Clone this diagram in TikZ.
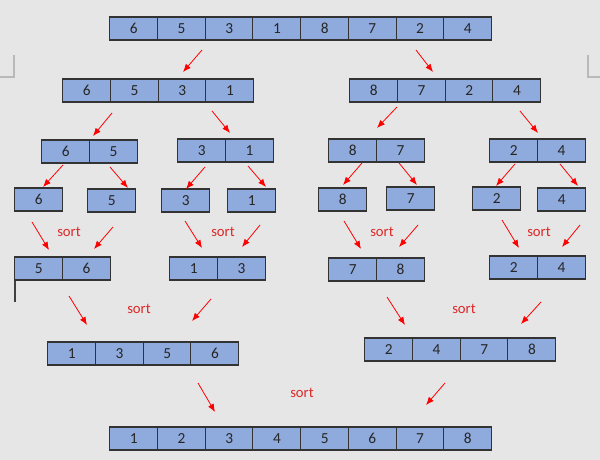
\documentclass[tikz,border=0pt]{standalone}
\usepackage{fontspec}
\setmainfont{Carlito}
\usepackage{tikz}
\usetikzlibrary{arrows.meta}
\definecolor{cellblue}{HTML}{8FAADC}
\definecolor{paper}{HTML}{E6E6E6}
\definecolor{sortred}{RGB}{220,40,40}
\tikzset{>=latex}
\tikzstyle{cell} = [rectangle, draw=black!80, line width=0.8pt, fill=cellblue, minimum width=36pt, minimum height=17.25pt, inner sep=0, font=\fontsize{11.5}{13}\selectfont, text=black!85]
\tikzstyle{arr} = [-{Latex[length=6pt,width=4.8pt]}, red, line width=0.6pt]
\tikzstyle{lbl} = [draw=none, inner sep=1, text=sortred, font=\fontsize{11}{13}\selectfont]

\begin{document}
\begin{tikzpicture}[x=0.75pt, y=-0.75pt]
\fill [paper] (0,0) rectangle (600,460);
\useasboundingbox (0,0) rectangle (600,460);
% page corner marks and cursor
\draw [gray!55, line width=1.2pt] (0,77) -- (14,77) -- (14,55);
\draw [gray!55, line width=1.2pt] (600,77) -- (588,77) -- (588,55);
\draw [black!75, line width=0.8pt] (15,280) -- (15,302);
% arrays: name/left/top/values
\foreach \n/\x/\y/\vals in {top/110/17/{6,5,3,1,8,7,2,4},
    la/63/79/{6,5,3,1}, lb/350/79/{8,7,2,4},
    pa/42/140/{6,5}, pb/178/139/{3,1}, pc/329/139/{8,7}, pd/490/139/{2,4},
    sa/15/188/{6}, sb/88/189/{5}, sc/162/189/{3}, sd/228/189/{1},
    se/319/188/{8}, sf/387/187/{7}, sg/473/187/{2}, sh/538/188/{4},
    ma/15/257/{5,6}, mb/170/257/{1,3}, mc/329/258/{7,8}, md/490/256/{2,4},
    qa/48/342/{1,3,5,6}, qb/365/338/{2,4,7,8},
    bot/110/427/{1,2,3,4,5,6,7,8}}
  \foreach \v [count=\i] in \vals
    \node [cell] (\n-\i) at ({\x+(\i-0.5)*47.7}, {\y+11.5}) {\v};
% split and merge arrows: name/from x/from y/to x/to y
\foreach \a/\sx/\sy/\ex/\ey in {a1/202/50/183/72, a2/416/50/433/72,
    a3/112/113/93/136, a4/212/111/230/133, a5/397/107/377/128, a6/520/111/538/133,
    a7/63/165/43/187, a8/110/167/128/188, a9/205/167/186/189, a10/248/166/266/187,
    a11/362/163/343/185, a12/399/163/417/185, a13/515/164/496/186, a14/560/164/578/186,
    a15/32/222/49/250, a16/113/227/94/249, a17/185/221/202/248, a18/260/225/242/247,
    a19/344/221/361/249, a20/418/225/399/247, a21/502/220/519/248, a22/580/225/562/247,
    a23/69/296/87/325, a24/211/299/192/321, a25/387/297/405/325, a26/541/302/521/324,
    a27/198/383/215/412, a28/445/383/426/405}
{
  \coordinate (\a s) at (\sx,\sy);
  \coordinate (\a e) at (\ex,\ey);
  \draw [arr] (\a s) -- (\a e);
}
% sort labels
\foreach \s/\x/\y in {s1/69/232, s2/223/232, s3/382/232, s4/539/232,
    s5/139/309, s6/464/309, s7/302/393}
  \node [lbl] (\s) at (\x,\y) {sort};
\end{tikzpicture}
\end{document}
